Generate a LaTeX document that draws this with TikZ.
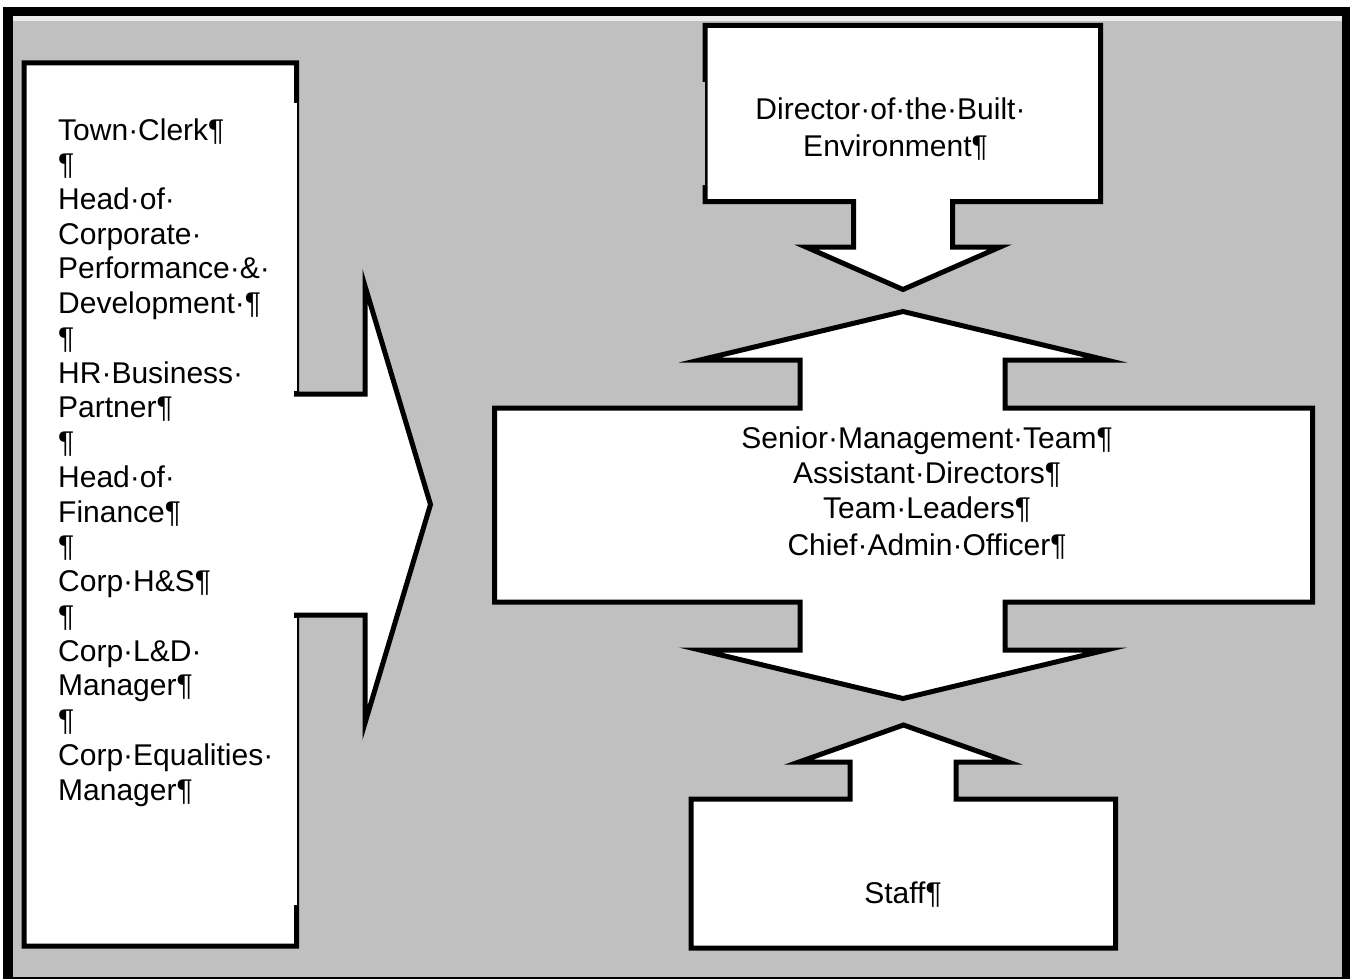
\documentclass[tikz,border=0pt]{standalone}
\usepackage{fontspec}
\setmainfont{Liberation Sans}
\definecolor{bggray}{HTML}{C0C0C0}
\definecolor{stripgray}{HTML}{EDEDED}
\begin{document}
\begin{tikzpicture}[x=1pt,y=-1pt,line join=miter,
  callout/.style={fill=white,draw=black,line width=5pt},
  txt/.style={inner sep=0pt,font=\fontsize{30}{34.74}\selectfont}]
\useasboundingbox (0,0) rectangle (1357,979);
% frame and background
\fill[black] (3,7) rectangle (1350,990);
\fill[bggray] (13,16.5) rectangle (1342,977);
\fill[stripgray] (13,16.5) rectangle (1342,21.5);
% left callout (arrow to the right)
\draw[callout] (24,63) -- (296.5,63) -- (296.5,394) -- (365,394) -- (365,286)
  -- (430.5,504.5) -- (365,723) -- (365,615) -- (296.5,615) -- (296.5,946)
  -- (24,946) -- cycle;
\fill[white] (293.4,103) rectangle (296.9,391.4);
\fill[white] (293.4,617.6) rectangle (296.9,905);
% director callout (arrow down)
\draw[callout] (705,25.5) -- (1100.5,25.5) -- (1100.5,201.5) -- (952.5,201.5)
  -- (952.5,247) -- (1000,247) -- (903,289.5) -- (806,247) -- (853.5,247)
  -- (853.5,201.5) -- (705,201.5) -- cycle;
\fill[bggray] (702.4,82) rectangle (705,185);
% middle callout (arrows up and down)
\draw[callout] (494.5,408) -- (800,408) -- (800,360) -- (700,360) -- (903,311.5)
  -- (1106,360) -- (1005,360) -- (1005,408) -- (1312.5,408) -- (1312.5,602)
  -- (1005,602) -- (1005,650) -- (1106,650) -- (903,698.5) -- (700,650)
  -- (800,650) -- (800,602) -- (494.5,602) -- cycle;
% staff callout (arrow up)
\draw[callout] (691,948) -- (1115.5,948) -- (1115.5,799) -- (956,799) -- (956,762)
  -- (1008,762) -- (903.5,725) -- (799,762) -- (850,762) -- (850,799)
  -- (691,799) -- cycle;
% texts
\foreach \t [count=\i from 0] in {Town·Clerk¶,¶,Head·of·,Corporate·,Performance·\&·,Development·¶,¶,HR·Business·,Partner¶,¶,Head·of·,Finance¶,¶,Corp·H\&S¶,¶,Corp·L\&D·,Manager¶,¶,Corp·Equalities·,Manager¶}
  \node[txt,anchor=base west] (left\i) at (58,{140+\i*34.74}) {\t};
\node[txt,anchor=base] (dir1) at (890.5,120) {Director·of·the·Built·};
\node[txt,anchor=base] (dir2) at (895.5,156.7) {Environment¶};
\node[txt,anchor=base] (smt) at (927,448) {Senior·Management·Team¶};
\node[txt,anchor=base] (ad) at (927,483) {Assistant·Directors¶};
\node[txt,anchor=base] (tl) at (927,518) {Team·Leaders¶};
\node[txt,anchor=base] (cao) at (927,555) {Chief·Admin·Officer¶};
\node[txt,anchor=base] (staff) at (903,903) {Staff¶};
\end{tikzpicture}
\end{document}
